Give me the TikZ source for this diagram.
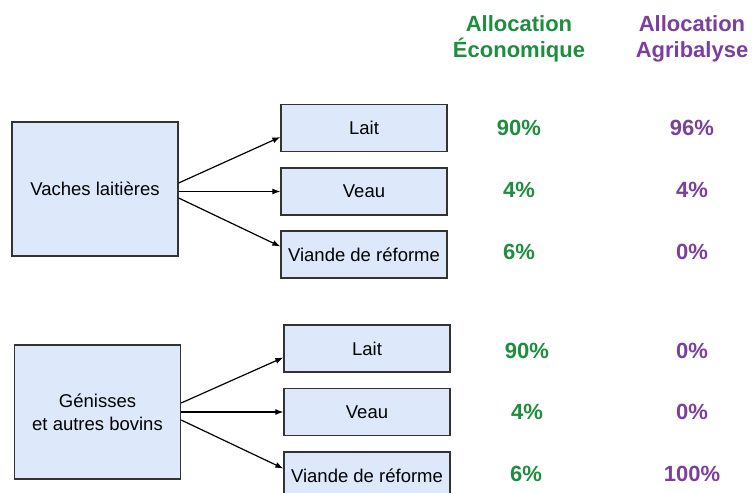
\documentclass[tikz,border=0pt]{standalone}
\usepackage{fontspec}
\setmainfont{Liberation Sans}
\usetikzlibrary{arrows.meta}
\definecolor{boxfill}{HTML}{DDE9FB}
\definecolor{ecogreen}{HTML}{1E8E3E}
\definecolor{agripurple}{HTML}{7B3F9E}
\begin{document}
\begin{tikzpicture}[x=1pt,y=-1pt,
  bigbox/.style={draw=black!80,line width=1.3pt,fill=boxfill,minimum width=166pt,minimum height=134pt,align=center,font=\fontsize{18.5}{23}\selectfont,inner sep=0pt},
  smallbox/.style={draw=black!80,line width=1.3pt,fill=boxfill,minimum width=166pt,minimum height=47pt,font=\fontsize{18.5}{22}\selectfont,inner sep=0pt},
  conn/.style={-{Latex[length=8pt,width=6pt]},line width=1.2pt},
  pct/.style={font=\bfseries\fontsize{22}{26}\selectfont},
  hdr/.style={font=\bfseries\fontsize{22}{26}\selectfont,align=center}]
\useasboundingbox (0,0) rectangle (753,493);
\begin{scope}
\clip (0,0) rectangle (753,493);
% top group
\node[bigbox] (vl) at (95,189) {Vaches laitières};
\node[smallbox] (l1) at (364,128) {Lait};
\node[smallbox] (v1) at (364,191.5) {Veau};
\node[smallbox] (r1) at (364,254.5) {Viande de réforme};
\draw[conn] ([yshift=6pt]vl.east) -- ([yshift=-9pt]l1.west);
\draw[conn] ([yshift=-2.5pt]vl.east) -- (v1.west);
\draw[conn] ([yshift=-9pt]vl.east) -- ([yshift=8pt]r1.west);
% bottom group
\node[bigbox] (gb) at (97.5,412) {Génisses\\et autres bovins};
\node[smallbox] (l2) at (367,348.5) {Lait};
\node[smallbox] (v2) at (367,412) {Veau};
\node[smallbox] (r2) at (367,475.5) {Viande de réforme};
\draw[conn] ([yshift=9pt]gb.east) -- ([yshift=-9pt]l2.west);
\draw[conn] (gb.east) -- (v2.west);
\draw[conn] ([yshift=-8pt]gb.east) -- ([yshift=7pt]r2.west);
\end{scope}
% headers
\node[hdr,text=ecogreen] (he) at (519,39) {Allocation\\Économique};
\node[hdr,text=agripurple] (ha) at (692,39) {Allocation\\Agribalyse};
% percentages
\node[pct,text=ecogreen] (e1) at (519,128) {90\%};
\node[pct,text=ecogreen] (e2) at (519,190) {4\%};
\node[pct,text=ecogreen] (e3) at (519,252) {6\%};
\node[pct,text=agripurple] (a1) at (692,128) {96\%};
\node[pct,text=agripurple] (a2) at (692,190) {4\%};
\node[pct,text=agripurple] (a3) at (692,252) {0\%};
\node[pct,text=ecogreen] (e4) at (527,351) {90\%};
\node[pct,text=ecogreen] (e5) at (527,412) {4\%};
\node[pct,text=ecogreen] (e6) at (526,474) {6\%};
\node[pct,text=agripurple] (a4) at (692,351) {0\%};
\node[pct,text=agripurple] (a5) at (692,412) {0\%};
\node[pct,text=agripurple] (a6) at (692,474) {100\%};
\end{tikzpicture}
\end{document}
